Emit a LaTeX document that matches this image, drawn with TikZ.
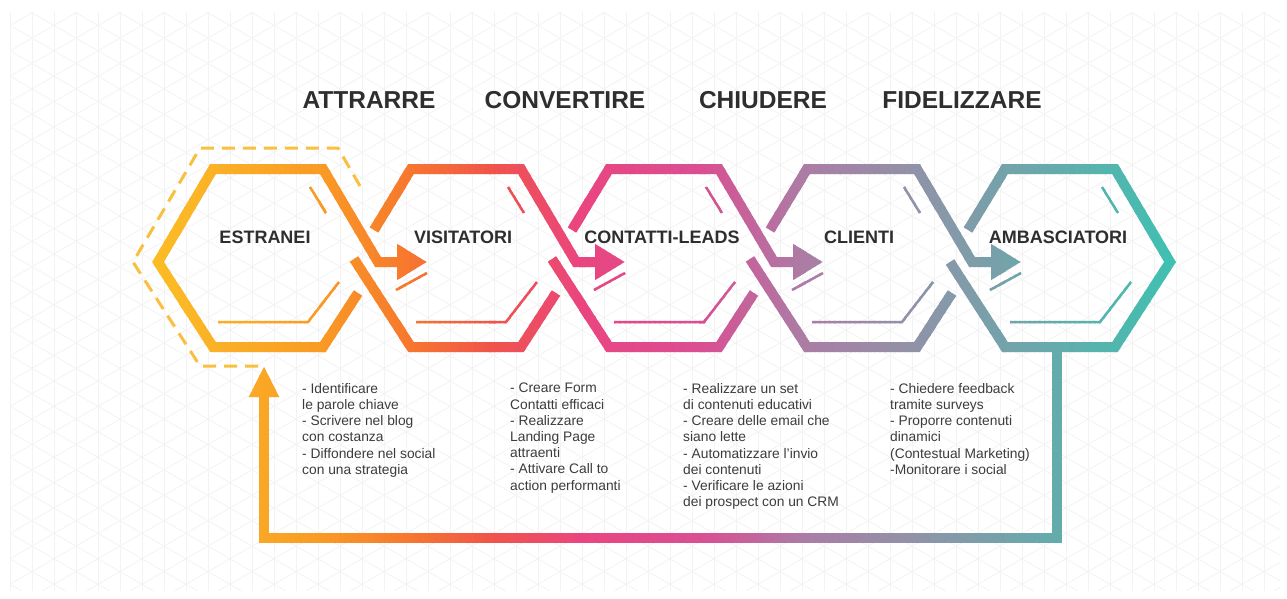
\documentclass[tikz,border=0pt]{standalone}
\usepackage{fontspec}
\setmainfont{Liberation Sans}
\usetikzlibrary{arrows.meta, positioning}

% colours of the funnel, left to right
\definecolor{flowa}{HTML}{FCC020}
\definecolor{flowb}{HTML}{FBB826}
\definecolor{flowc}{HTML}{F99A25}
\definecolor{flowd}{HTML}{F77A2D}
\definecolor{flowe}{HTML}{F0544A}
\definecolor{flowf}{HTML}{EA4580}
\definecolor{flowg}{HTML}{D94F93}
\definecolor{flowh}{HTML}{AC7CA5}
\definecolor{flowi}{HTML}{8B96A8}
\definecolor{flowj}{HTML}{75A2AA}
\definecolor{flowk}{HTML}{3CC2B1}
\definecolor{textdark}{HTML}{2E2E2E}
\definecolor{textgrey}{HTML}{3C3C3C}
\definecolor{dashyellow}{HTML}{F9BF3E}
\definecolor{gridgrey}{HTML}{F3F3F3}

% all coloured bands, in the current colour
\newcommand{\flowstrokes}{%
  \foreach \i in {0,...,4}{%
    \pgfmathsetmacro{\cx}{268+198*\i}%
    \ifnum\i=0
      \draw[band, -{Triangle[length=30pt, width=34pt]}] (\cx+90,293) -- (\cx+55,347) -- (\cx-55,347) -- (\cx-110,262) -- (\cx-55,169) -- (\cx+55,169) -- (\cx+110,262) -- (\cx+159,262);
    \else\ifnum\i=4
      \draw[band] (\cx-92,230) -- (\cx-55,169) -- (\cx+55,169) -- (\cx+110,262) -- (\cx+55,347) -- (\cx-55,347) -- (\cx-110,262);
    \else
      \draw[band, -{Triangle[length=30pt, width=34pt]}] (\cx-92,230) -- (\cx-55,169) -- (\cx+55,169) -- (\cx+110,262) -- (\cx+159,262);
      \draw[band] (\cx-112,259) -- (\cx-55,347) -- (\cx+55,347) -- (\cx+90,293);
    \fi\fi
    \ifnum\i<4 \draw[shine] (\cx+128,290) -- (\cx+159,273); \fi
    \draw[shine] (\cx+42,187) -- (\cx+58,213);
    \draw[shine] (\cx-50,322) -- (\cx+40,322) -- (\cx+71,282);
  }%
  \draw[band, -{Triangle[length=31pt, width=28pt]}] (loopstart) -- (1057,538) -| (looptip);
}

\begin{document}
\begin{tikzpicture}[x=1pt, y=-1pt,
    band/.style={line width=10pt, line join=miter},
    shine/.style={line width=2.5pt},
    gridline/.style={draw=gridgrey, line width=0.8pt},
    dashhex/.style={draw=dashyellow, line width=3pt, dash pattern=on 13pt off 8pt},
    phase/.style={font=\fontsize{24.5pt}{28pt}\selectfont\bfseries, text=textdark, anchor=base, inner sep=0pt},
    stage/.style={font=\fontsize{18pt}{20pt}\selectfont\bfseries, text=textdark, anchor=base, inner sep=0pt},
    todo/.style={font=\fontsize{13.8pt}{16.2pt}\selectfont, text=textgrey, align=left, anchor=north west, inner sep=0pt}]

    \useasboundingbox (0,0) rectangle (1287,598);
    \fill[white] (0,0) rectangle (1287,598);

    % background grid
    \begin{scope}
      \clip (10,12) rectangle (1280,590);
      \foreach \x in {10,32,...,1280}
        \draw[gridline] (\x,0) -- (\x,598);
      \foreach \k in {-30,...,54}{
        \draw[gridline] (10,\k*25.4) -- ++(1287,743);
        \draw[gridline] (10,\k*25.4) -- ++(1287,-743);
      }
    \end{scope}

    \coordinate (loopstart) at (1057,347);
    \coordinate (looptip) at (264,366);

    % dashed outline round the first stage
    \draw[dashhex] (360,186) -- (338,148) -- (200,148) -- (133,262) -- (200,366) -- (looptip);

    % bands, strip by strip for the colour run
    \foreach \xa/\xb/\ca/\cb in {120/180/flowa/flowb, 180/320/flowb/flowc, 320/400/flowc/flowd,
        400/490/flowd/flowe, 490/580/flowe/flowf, 580/700/flowf/flowg, 700/800/flowg/flowh,
        800/930/flowh/flowi, 930/1000/flowi/flowj, 1000/1180/flowj/flowk}{
      \pgfmathtruncatemacro{\xn}{\xa+5}
      \foreach \x in {\xa,\xn,...,\xb}{
        \pgfmathtruncatemacro{\pct}{(\x-\xa)/(\xb-\xa)*100}
        \colorlet{strip}{\cb!\pct!\ca}
        \begin{scope}[color=strip]
          \clip (\x-0.6,0) rectangle (\x+5.6,598);
          \flowstrokes
        \end{scope}
      }
    }

    % Phases
    \node[phase] (attrarre) at (369,108) {ATTRARRE};
    \node[phase] (convertire) at (565,108) {CONVERTIRE};
    \node[phase] (chiudere) at (763,108) {CHIUDERE};
    \node[phase] (fidelizzare) at (962,108) {FIDELIZZARE};

    % Stages
    \node[stage] (estranei) at (265,243) {ESTRANEI};
    \node[stage] (visitatori) at (463,243) {VISITATORI};
    \node[stage] (contatti) at (662,243) {CONTATTI-LEADS};
    \node[stage] (clienti) at (859,243) {CLIENTI};
    \node[stage] (ambasciatori) at (1058,243) {AMBASCIATORI};

    % Actions
    \node[todo] (attrarrelist) at (302,383) {- Identificare\\le parole chiave\\- Scrivere nel blog\\con costanza\\- Diffondere nel social\\con una strategia};
    \node[todo] (convertirelist) at (510,383) {- Creare Form\\Contatti efficaci\\- Realizzare\\Landing Page\\attraenti\\- Attivare Call to\\action performanti};
    \node[todo] (chiuderelist) at (683,383) {- Realizzare un set\\di contenuti educativi\\- Creare delle email che\\siano lette\\- Automatizzare l’invio\\dei contenuti\\- Verificare le azioni\\dei prospect con un CRM};
    \node[todo] (fidelizzarelist) at (890,383) {- Chiedere feedback\\tramite surveys\\- Proporre contenuti\\dinamici\\(Contestual Marketing)\\-Monitorare i social};

\end{tikzpicture}
\end{document}
